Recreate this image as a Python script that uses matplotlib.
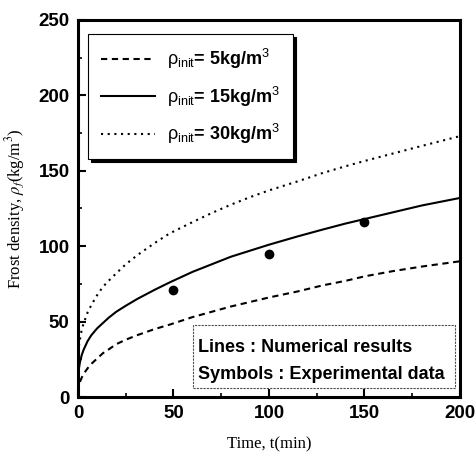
import numpy as np
import matplotlib
matplotlib.use('Agg')
import matplotlib.pyplot as plt
from matplotlib.patches import Rectangle
from matplotlib.ticker import MultipleLocator

# time grid for the numerical curves (min)
t = [0, 0.5, 1, 2, 3, 5, 7, 10, 13, 16, 20, 25, 31, 40, 48, 60, 70, 80, 90,
     100, 115, 128, 140, 150, 165, 180, 200]
# frost density for each initial density (kg/m3)
rho_5 = [3, 8, 10, 13, 15.5, 19, 22, 25.5, 29, 31.5, 35, 38, 41, 45, 48, 53, 56.5,
         60, 63, 66, 70, 74, 77, 80, 83.5, 86.5, 90]
rho_15 = [12, 19, 23, 28, 31.5, 37, 41, 45.5, 49, 52.5, 56.5, 60.5, 65, 71, 76, 83,
          88, 93, 97, 101, 106.5, 111, 115, 118, 122.5, 127, 132]
rho_30 = [25, 34, 38, 45, 49, 56, 61, 67.5, 73, 77, 82, 88, 94, 102, 108.5, 116,
          122, 127.5, 132.5, 137, 143, 148.5, 153, 156.5, 161.5, 166.5, 173]
# experiment
t_exp = [50, 100, 150]
rho_exp = [71, 95, 116]

labels = [r'$\rho_{\rm init}$= 5kg/m$^3$',
          r'$\rho_{\rm init}$= 15kg/m$^3$',
          r'$\rho_{\rm init}$= 30kg/m$^3$']

plt.rcParams['font.family'] = ['Liberation Sans', 'DejaVu Sans']
plt.rcParams['mathtext.fontset'] = 'custom'
plt.rcParams['mathtext.rm'] = 'Liberation Sans'
plt.rcParams['mathtext.it'] = 'Liberation Sans'

fig = plt.figure(figsize=(4.77, 4.61), dpi=100)
ax = fig.add_axes([78 / 477, 1 - 397 / 461, 382 / 477, 377 / 461])

ax.plot(t, rho_5, color='k', lw=1.5, ls=(0, (3, 2.2)), label=labels[0])
ax.plot(t, rho_15, color='k', lw=1.5, ls='-', label=labels[1])
ax.plot(t, rho_30, color='k', lw=1.5, ls=(0, (1, 2.2)), label=labels[2])
ax.plot(t_exp, rho_exp, 'o', color='k', ms=6)

ax.set_xlim(0, 200)
ax.set_ylim(0, 250)
ax.xaxis.set_major_locator(MultipleLocator(50))
ax.xaxis.set_minor_locator(MultipleLocator(25))
ax.yaxis.set_major_locator(MultipleLocator(50))
ax.yaxis.set_minor_locator(MultipleLocator(25))
ax.tick_params(which='major', direction='in', length=6, width=1.5, labelsize=13.5, pad=6)
ax.tick_params(which='minor', direction='in', length=3, width=1.2)
for lab in ax.get_xticklabels() + ax.get_yticklabels():
    lab.set_fontweight('bold')
for s in ax.spines.values():
    s.set_linewidth(2.2)

ax.set_xlabel('Time, t(min)', fontsize=12, family='Liberation Serif', labelpad=10)
ax.set_ylabel(r'Frost density, $\rho_f$(kg/m$^3$)', fontsize=12, family='Liberation Serif',
              labelpad=8, math_fontfamily='stix')

leg = ax.legend(loc='upper left', bbox_to_anchor=(0.026, 0.962), borderaxespad=0,
                fancybox=False, edgecolor='k', framealpha=1, handlelength=3.0,
                labelspacing=0.75, borderpad=0.7, handletextpad=0.7,
                prop={'weight': 'bold', 'size': 13},
                shadow={'facecolor': 'black', 'edgecolor': 'black', 'alpha': 1})
leg.get_frame().set_linewidth(0.8)

ax.add_patch(Rectangle((0.301, 0.024), 0.686, 0.167, transform=ax.transAxes,
                       fill=False, lw=0.8, ls=(0, (2, 1)), ec='0.3', zorder=3))
ax.text(0.314, 0.131, 'Lines : Numerical results', transform=ax.transAxes,
        fontsize=13, fontweight='bold', va='center')
ax.text(0.314, 0.061, 'Symbols : Experimental data', transform=ax.transAxes,
        fontsize=13, fontweight='bold', va='center')

fig.savefig('out.png', dpi=100)
